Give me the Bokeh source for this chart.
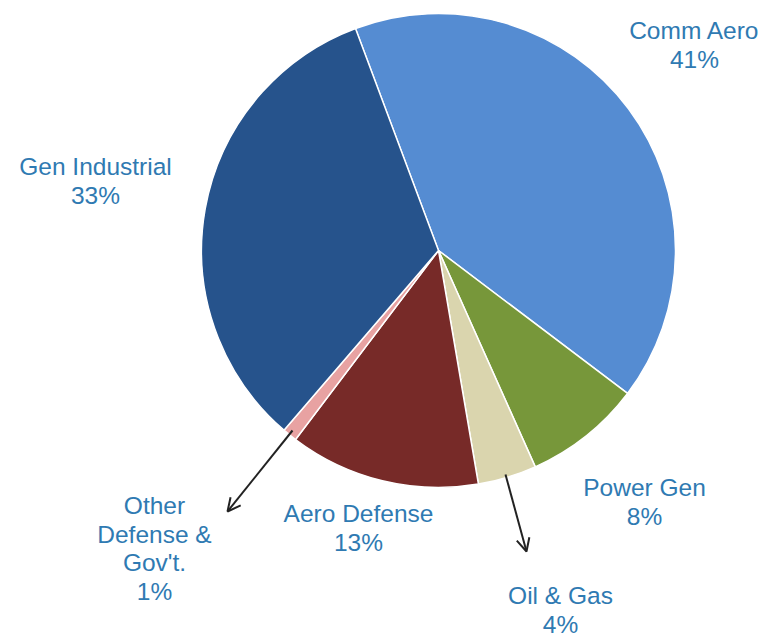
import numpy as np
from bokeh.plotting import figure
from bokeh.models import Range1d, Arrow, OpenHead, ColumnDataSource
from bokeh.core.properties import value
from bokeh.embed import file_html
from bokeh.resources import INLINE

# data
categories = ["Comm Aero", "Power Gen", "Oil & Gas", "Aero Defense", "Other Defense & Gov't.", "Gen Industrial"]
label_lines = [["Comm Aero"], ["Power Gen"], ["Oil & Gas"], ["Aero Defense"], ["Other", "Defense &", "Gov't."], ["Gen Industrial"]]
shares = [41, 8, 4, 13, 1, 33]
colors = ["#558CD2", "#77973A", "#DAD5AE", "#772A28", "#E8A2A2", "#26538C"]

W, H = 765, 637
p = figure(width=W, height=H, output_backend="svg", toolbar_location=None,
           x_range=Range1d(0, W), y_range=Range1d(0, H), min_border=0)
p.axis.visible = False
p.grid.visible = False
p.outline_line_color = None
p.background_fill_color = "white"

cx, cy, r = 438, H - 250, 237
start_deg = 90 + 20.5
s = np.array(shares, dtype=float)
cum = np.concatenate([[0], np.cumsum(s)]) / s.sum() * 360.0
starts = np.radians(start_deg - cum[:-1])
ends = np.radians(start_deg - cum[1:])
src = ColumnDataSource(dict(start=starts, end=ends, color=colors, cat=categories))
p.wedge(x=cx, y=cy, radius=r, start_angle="start", end_angle="end", direction="clock",
        fill_color="color", line_color="white", line_width=1.5, source=src)

# label anchor positions (pixel layout, top-left origin)
label_pos = [(694, 30), (644, 487), (560, 595), (358, 513), (154, 505), (95, 166)]
line_h = 28.5
tx, ty, tt = [], [], []
for lines, v, (x, y) in zip(label_lines, shares, label_pos):
    allines = lines + [f"{v}%"]
    for i, t in enumerate(allines):
        tx.append(x)
        ty.append(H - (y + i * line_h))
        tt.append(t)
p.text(x=tx, y=ty, text=tt, text_font=value("Liberation Sans"), text_font_size="24.5px",
       text_color="#2F7AB2", text_align="center", text_baseline="middle")

# arrows
p.add_layout(Arrow(end=OpenHead(size=13, line_width=2, line_color="#222222"),
                   x_start=292, y_start=H - 430, x_end=227, y_end=H - 511,
                   line_width=2, line_color="#222222"))
p.add_layout(Arrow(end=OpenHead(size=13, line_width=2, line_color="#222222"),
                   x_start=505, y_start=H - 474, x_end=526, y_end=H - 551,
                   line_width=2, line_color="#222222"))

open("out.html", "w").write(file_html(p, INLINE))
